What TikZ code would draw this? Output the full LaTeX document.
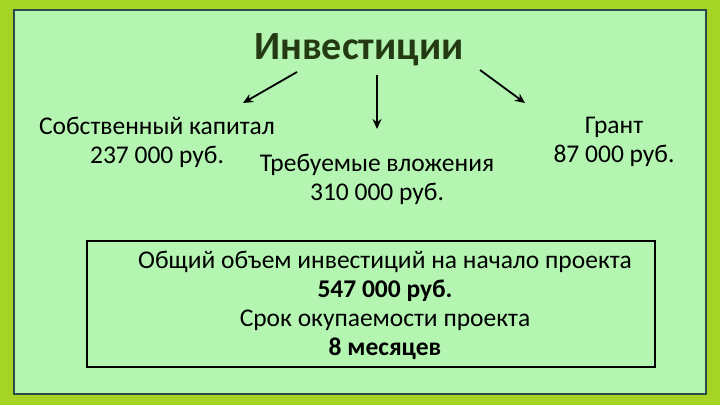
\documentclass[tikz,border=0pt]{standalone}
\usepackage{fontspec}
\setmainfont{Carlito}
\usetikzlibrary{arrows.meta}
\definecolor{lime}{HTML}{A6D424}
\definecolor{panel}{HTML}{B4F5B2}
\definecolor{panelborder}{HTML}{2E4A4A}
\definecolor{titlegreen}{HTML}{243A12}
\tikzset{
  txt/.style={font=\fontsize{25.5}{29}\selectfont, text=black, inner sep=0pt, align=center},
  arr/.style={-{Stealth[length=10pt,width=9pt]}, line width=1.8pt},
}
\begin{document}
\begin{tikzpicture}[x=1pt,y=-1pt]
\useasboundingbox (0,0) rectangle (720,405);
\fill[lime] (0,0) rectangle (720,405);
\draw[panelborder, line width=2pt, fill=panel] (14,10) rectangle (706,394);
\node[font=\bfseries\fontsize{40}{44}\selectfont, text=titlegreen, inner sep=0pt] (title) at (359,50) {Инвестиции};
\node[txt] (own) at (157,142) {Собственный капитал\\237 000 руб.};
\node[txt] (need) at (377,179) {Требуемые вложения\\310 000 руб.};
\node[txt] (grant) at (614,142) {Грант\\87 000 руб.};
\coordinate (a1s) at (297,72); \coordinate (a1e) at (243,103);
\coordinate (a2s) at (377,75); \coordinate (a2e) at (377,129);
\coordinate (a3s) at (480,70); \coordinate (a3e) at (525,103);
\draw[arr] (a1s) -- (a1e);
\draw[arr] (a2s) -- (a2e);
\draw[arr] (a3s) -- (a3e);
\draw[line width=2.6pt] (87,241) rectangle (655,367);
\node[txt] (total) at (385,305) {Общий объем инвестиций на начало проекта\\\textbf{547 000 руб.}\\Срок окупаемости проекта\\\textbf{8 месяцев}};
\end{tikzpicture}
\end{document}
